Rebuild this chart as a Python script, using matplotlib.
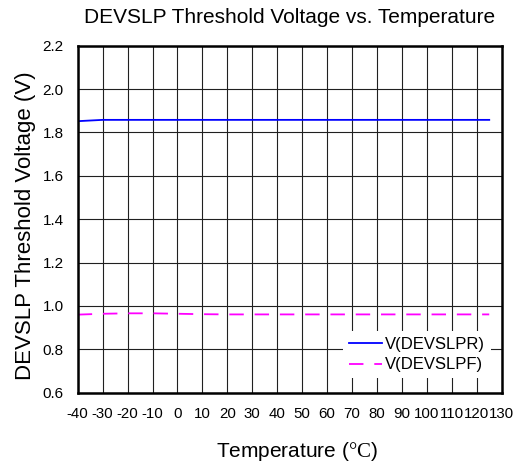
import matplotlib
matplotlib.use("Agg")
import matplotlib.pyplot as plt
import numpy as np

plt.rcParams['font.family'] = ['Liberation Sans', 'DejaVu Sans']
plt.rcParams['mathtext.fontset'] = 'custom'
plt.rcParams['mathtext.rm'] = 'Liberation Serif'

temp = [-40, -30, -20, -10, 0, 10, 20, 30, 40, 50, 60, 70, 80, 90, 100, 110, 120, 125]
v_rise = [1.852, 1.858, 1.858, 1.858, 1.858, 1.858, 1.858, 1.858, 1.858, 1.858,
          1.858, 1.858, 1.858, 1.858, 1.858, 1.858, 1.858, 1.858]
v_fall = [0.960, 0.964, 0.966, 0.966, 0.964, 0.962, 0.961, 0.961, 0.961, 0.961,
          0.961, 0.961, 0.961, 0.961, 0.961, 0.961, 0.961, 0.961]
xticks = list(range(-40, 131, 10))
yticks = [0.6, 0.8, 1.0, 1.2, 1.4, 1.6, 1.8, 2.0, 2.2]

fig = plt.figure(figsize=(5.3, 4.68), dpi=100)
ax = fig.add_axes([77.7 / 530, 1 - 392.7 / 468, 424 / 530, 347 / 468])

ax.plot(temp, v_rise, color='#0000ff', lw=1.3, label='V(DEVSLPR)')
ax.plot(temp, v_fall, color='#ff00ff', lw=1.3, ls=(0, (8, 6)), label='V(DEVSLPF)')

ax.set_xlim(-40, 130)
ax.set_ylim(0.6, 2.2)
ax.set_xticks(xticks)
ax.set_xticklabels([str(t) for t in xticks])
ax.set_yticks(yticks)
ax.set_yticklabels(['%.1f' % y for y in yticks])
ax.tick_params(length=0)
ax.tick_params(axis='x', labelsize=10.8, pad=10)
ax.tick_params(axis='y', labelsize=11, pad=10)
ax.grid(True, color='#202020', lw=0.8)
ax.set_axisbelow(True)
for s in ax.spines.values():
    s.set_linewidth(1.8)
    s.set_color('black')

ax.set_title('DEVSLP Threshold Voltage vs. Temperature', fontsize=15, pad=16)
ax.set_ylabel('DEVSLP Threshold Voltage (V)', fontsize=16)
ax.yaxis.set_label_coords(-0.098, 0.48)
ax.set_xlabel(r'Temperature ($\mathrm{°C}$)', fontsize=15)
ax.xaxis.set_label_coords(0.5165, -0.135)

leg = ax.legend(loc='center', bbox_to_anchor=(0.80, 0.11), fontsize=12,
                frameon=True, fancybox=False, handlelength=2.0, borderpad=0.35,
                labelspacing=0.35, handletextpad=0.2, borderaxespad=0)
leg.get_frame().set_edgecolor('none')
leg.get_frame().set_facecolor('white')
leg.get_frame().set_alpha(1)

fig.savefig('out.png', dpi=100)
